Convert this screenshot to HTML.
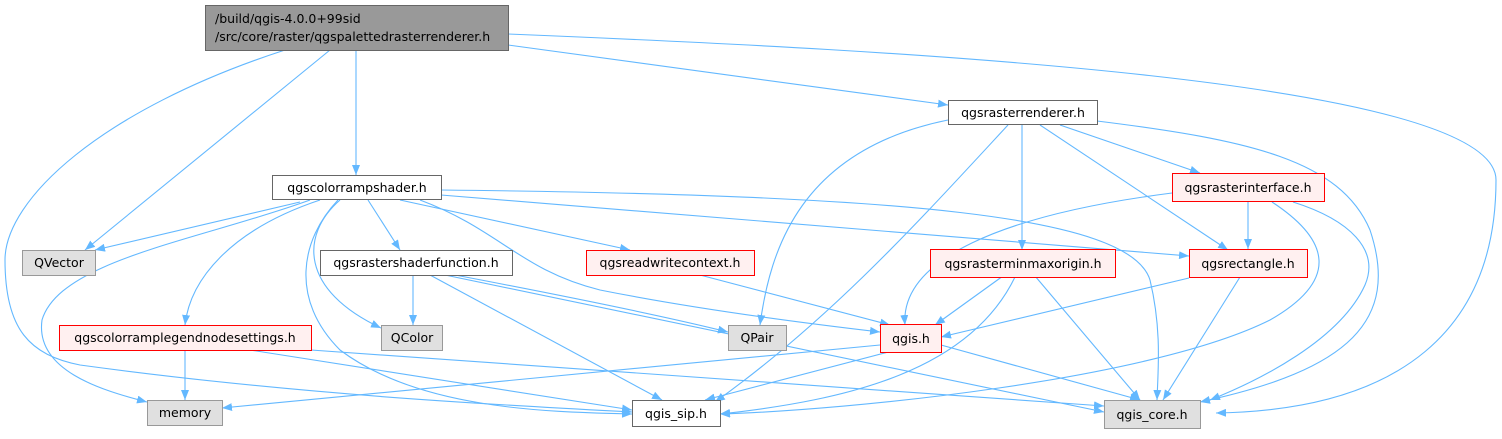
<!DOCTYPE html>
<html><head><meta charset="utf-8"><style>
html,body{margin:0;padding:0;background:#fff;}
svg text{font-family:"DejaVu Sans","Liberation Sans",sans-serif;font-size:12.5px;fill:#000;}
</style></head><body>
<svg width="1502" height="434" viewBox="0 0 1502 434" xmlns="http://www.w3.org/2000/svg">
<defs><marker id="a" markerWidth="10" markerHeight="8" refX="10" refY="4" orient="auto" markerUnits="userSpaceOnUse"><path d="M0,0 L10,4 L0,8 z" fill="#63b8ff"/></marker></defs>
<g fill="none" stroke="#63b8ff" stroke-width="1.1" marker-end="url(#a)">
<path d="M330,50 L85,250"/>
<path d="M356,50 L356,175"/>
<path d="M508,45 L948,105"/>
<path d="M508,34 C900,50 1496,80 1496,180 C1496,330 1400,410 1216,413"/>
<path d="M285,50 C100,110 5,200 5,260 C5,330 30,355 80,365 C300,395 500,405 632,412"/>
<path d="M300,202 L95,250"/>
<path d="M310,200 C200,240 60,260 42,320 C35,370 100,390 147,402"/>
<path d="M320,200 C230,230 190,280 185,325"/>
<path d="M340,200 C300,235 300,290 381,328"/>
<path d="M338,200 C300,240 290,300 340,350 C420,410 550,412 632,414"/>
<path d="M368,200 L400,250"/>
<path d="M400,200 L630,250"/>
<path d="M420,200 C500,230 520,270 600,290 C700,310 820,325 880,332"/>
<path d="M441,195 L1189,256"/>
<path d="M441,190 C900,195 1130,215 1150,280 C1162,330 1158,370 1157,400"/>
<path d="M413,275 L413,325"/>
<path d="M455,275 C560,295 660,315 728,332"/>
<path d="M430,275 L662,400"/>
<path d="M445,275 L1104,412"/>
<path d="M700,275 L890,325"/>
<path d="M185,350 L185,400"/>
<path d="M250,350 L632,410"/>
<path d="M311,350 L1104,406"/>
<path d="M880,345 L222,408"/>
<path d="M892,351 L705,400"/>
<path d="M941,345 L1140,400"/>
<path d="M948,120 C800,150 770,250 760,325"/>
<path d="M1008,125 C920,220 830,320 715,402"/>
<path d="M1022,125 L1022,250"/>
<path d="M1040,125 L1228,250"/>
<path d="M1060,125 L1200,173"/>
<path d="M1097,121 C1250,140 1340,160 1370,230 C1400,320 1350,370 1200,402"/>
<path d="M1172,193 C1000,215 900,260 905,325"/>
<path d="M1248,201 L1248,249"/>
<path d="M1272,202 C1330,240 1340,280 1270,320 C1150,380 850,410 720,414"/>
<path d="M1293,202 C1350,220 1380,250 1365,285 C1340,340 1260,380 1210,400"/>
<path d="M1003,276 L935,325"/>
<path d="M1015,277 C970,370 850,400 720,414"/>
<path d="M1035,276 L1140,400"/>
<path d="M1189,278 L941,337"/>
<path d="M1240,277 L1163,400"/>
</g>
<g stroke-width="1">
<rect x="205.5" y="5.5" width="303" height="45" fill="#999" stroke="#666"/>
<rect x="948.5" y="100.5" width="149" height="24" fill="#fff" stroke="#666"/>
<rect x="272.5" y="175.5" width="169" height="24" fill="#fff" stroke="#666"/>
<rect x="1172.5" y="173.5" width="152" height="28" fill="#fff0f0" stroke="#f00"/>
<rect x="22.5" y="250.5" width="73" height="25" fill="#e0e0e0" stroke="#999"/>
<rect x="320.5" y="250.5" width="192" height="25" fill="#fff" stroke="#666"/>
<rect x="586.5" y="250.5" width="168" height="25" fill="#fff0f0" stroke="#f00"/>
<rect x="930.5" y="249.5" width="185" height="28" fill="#fff0f0" stroke="#f00"/>
<rect x="1189.5" y="249.5" width="118" height="28" fill="#fff0f0" stroke="#f00"/>
<rect x="381.5" y="325.5" width="61" height="25" fill="#e0e0e0" stroke="#999"/>
<rect x="728.5" y="325.5" width="58" height="25" fill="#e0e0e0" stroke="#999"/>
<rect x="880.5" y="324.5" width="61" height="28" fill="#fff0f0" stroke="#f00"/>
<rect x="59.5" y="325.5" width="252" height="25" fill="#fff0f0" stroke="#f00"/>
<rect x="147.5" y="400.5" width="75" height="25" fill="#e0e0e0" stroke="#999"/>
<rect x="632.5" y="400.5" width="88" height="26" fill="#fff" stroke="#666"/>
<rect x="1104.5" y="400.5" width="96" height="28" fill="#e0e0e0" stroke="#999"/>
</g>
<g>
<text x="215" y="23">/build/qgis-4.0.0+99sid</text>
<text x="215" y="41">/src/core/raster/qgspalettedrasterrenderer.h</text>
<g text-anchor="middle">
<text x="1023" y="117">qgsrasterrenderer.h</text>
<text x="357" y="192">qgscolorrampshader.h</text>
<text x="1248" y="192">qgsrasterinterface.h</text>
<text x="59" y="267">QVector</text>
<text x="416" y="267">qgsrastershaderfunction.h</text>
<text x="670" y="267">qgsreadwritecontext.h</text>
<text x="1023" y="268">qgsrasterminmaxorigin.h</text>
<text x="1248" y="268">qgsrectangle.h</text>
<text x="412" y="342">QColor</text>
<text x="757" y="342">QPair</text>
<text x="911" y="343">qgis.h</text>
<text x="185" y="342">qgscolorramplegendnodesettings.h</text>
<text x="185" y="417">memory</text>
<text x="676" y="418">qgis_sip.h</text>
<text x="1152" y="419">qgis_core.h</text>
</g></g>
</svg>
</body></html>
